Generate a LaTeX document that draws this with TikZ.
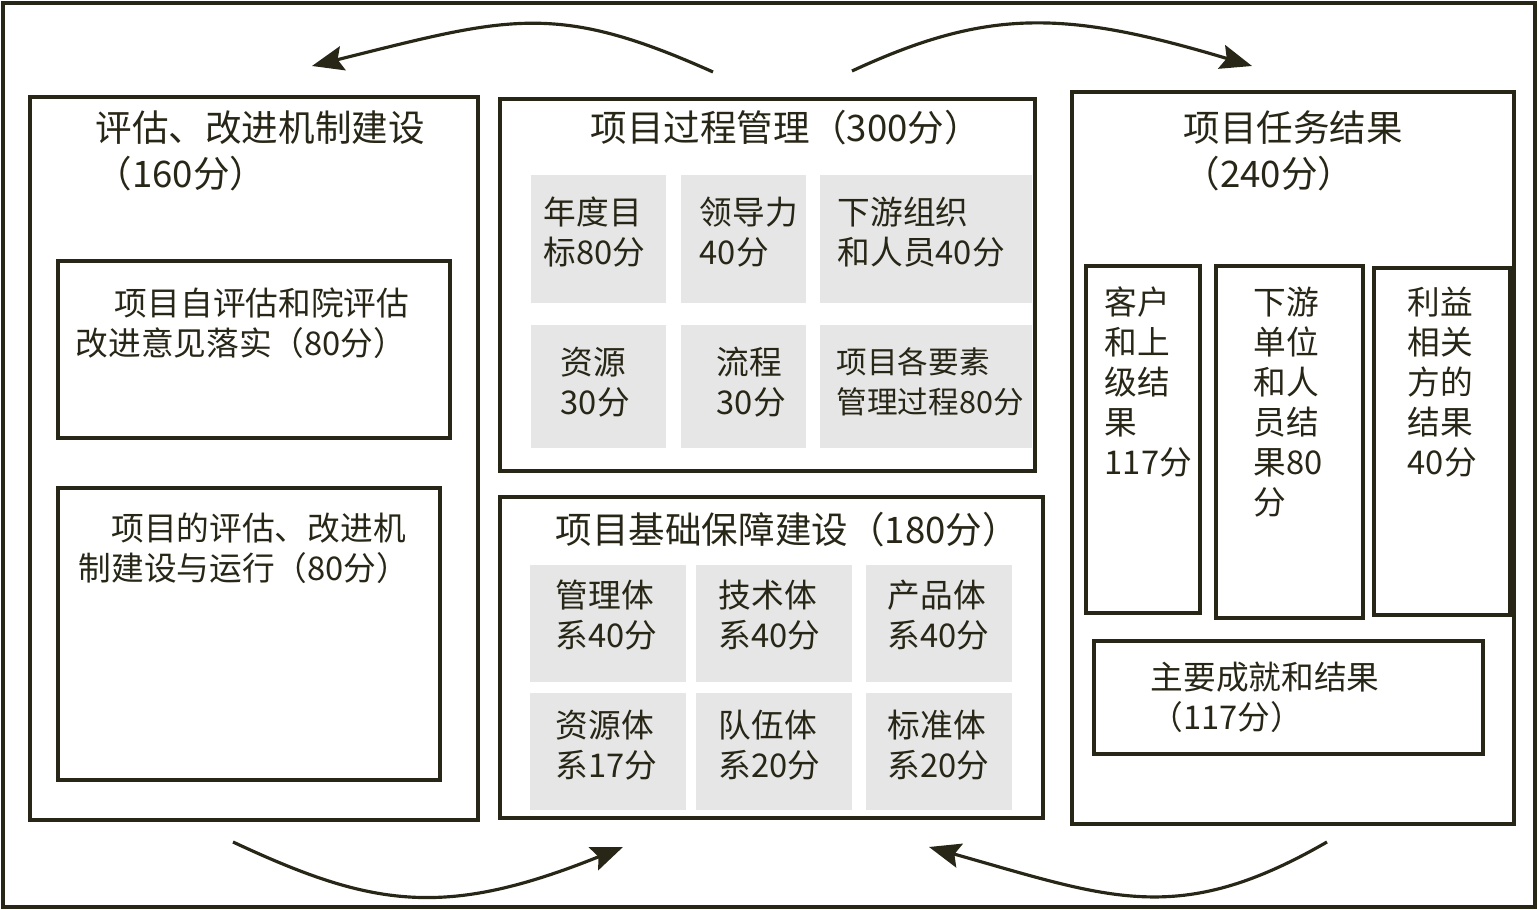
\documentclass[tikz,border=0pt]{standalone}
\usepackage{fontspec}
\setmainfont{Noto Sans CJK SC}
\usetikzlibrary{arrows.meta,fit}
\definecolor{ink}{RGB}{40,38,22}
\definecolor{cellgray}{RGB}{230,230,230}
\tikzset{
  box/.style={draw=ink, line width=1.1pt, inner sep=0pt},
  frame/.style={draw=ink, line width=1.4pt, inner sep=0pt},
  cell/.style={fill=cellgray, inner sep=0pt},
  txt/.style={inner sep=0pt, anchor=west, align=left, text=ink, font=\fontsize{9.3}{11.4}\selectfont},
  ttl/.style={inner sep=0pt, anchor=west, align=left, text=ink, font=\fontsize{10.4}{13}\selectfont},
  flow/.style={draw=ink, line width=0.9pt, -{Stealth[length=9pt,width=7pt,inset=1.5pt]}}
}
\begin{document}
\begin{tikzpicture}[x=0.01cm, y=-0.01cm]
\useasboundingbox (0,0) rectangle (1538,910);
\node[frame, fit={(3,3) (1535,907)}] (outer) {};

% left column
\node[box, fit={(30,97) (478,820)}] (L) {};
\node[ttl] (Lt) at (95,151) {评估、改进机制建设\\（160分）};
\node[box, fit={(58,261) (450,438)}] (L1) {};
\node[txt] (L1t) at (75,323) {\hspace*{1.2em}项目自评估和院评估\\改进意见落实（80分）};
\node[box, fit={(58,488) (440,780)}] (L2) {};
\node[txt] (L2t) at (78,548) {\hspace*{1em}项目的评估、改进机\\制建设与运行（80分）};

% middle top
\node[box, fit={(500,99) (1035,471)}] (M) {};
\node[ttl] (Mt) at (590,128) {项目过程管理（300分）};
\node[cell, fit={(531,175) (666,303)}] (m11) {};
\node[cell, fit={(681,175) (806,303)}] (m12) {};
\node[cell, fit={(820,175) (1032,303)}] (m13) {};
\node[cell, fit={(531,325) (666,448)}] (m21) {};
\node[cell, fit={(681,325) (806,448)}] (m22) {};
\node[cell, fit={(820,325) (1032,448)}] (m23) {};
\node[txt] (m11t) at (543,232) {年度目\\标80分};
\node[txt] (m12t) at (699,232) {领导力\\40分};
\node[txt] (m13t) at (837,232) {下游组织\\和人员40分};
\node[txt] (m21t) at (560,382) {资源\\30分};
\node[txt] (m22t) at (716,382) {流程\\30分};
\node[txt, font=\fontsize{8.7}{11.4}\selectfont] (m23t) at (836,382) {项目各要素\\管理过程80分};

% middle bottom
\node[box, fit={(500,497) (1043,818)}] (B) {};
\node[ttl] (Bt) at (555,530) {项目基础保障建设（180分）};
\node[cell, fit={(530,565) (686,682)}] (b11) {};
\node[cell, fit={(696,565) (852,682)}] (b12) {};
\node[cell, fit={(866,565) (1012,682)}] (b13) {};
\node[cell, fit={(530,693) (686,810)}] (b21) {};
\node[cell, fit={(696,693) (852,810)}] (b22) {};
\node[cell, fit={(866,693) (1012,810)}] (b23) {};
\node[txt] (b11t) at (555,615) {管理体\\系40分};
\node[txt] (b12t) at (718,615) {技术体\\系40分};
\node[txt] (b13t) at (887,615) {产品体\\系40分};
\node[txt] (b21t) at (555,745) {资源体\\系17分};
\node[txt] (b22t) at (718,745) {队伍体\\系20分};
\node[txt] (b23t) at (887,745) {标准体\\系20分};

% right column
\node[box, fit={(1072,92) (1514,824)}] (R) {};
\node[ttl] (Rt) at (1183,151) {项目任务结果\\（240分）};
\node[box, fit={(1086,266) (1200,613)}] (RA) {};
\node[box, fit={(1216,266) (1363,618)}] (RB) {};
\node[box, fit={(1374,268) (1510,615)}] (RC) {};
\node[txt] (RAt) at (1104,382) {客户\\和上\\级结\\果\\117分};
\node[txt] (RBt) at (1253,402) {下游\\单位\\和人\\员结\\果80\\分};
\node[txt] (RCt) at (1407,382) {利益\\相关\\方的\\结果\\40分};
\node[box, fit={(1094,641) (1483,754)}] (RD) {};
\node[txt] (RDt) at (1150,697) {主要成就和结果\\（117分）};

% arrows
\coordinate (a1s) at (713,72);  \coordinate (a1e) at (312,66);
\coordinate (a2s) at (852,71);  \coordinate (a2e) at (1252,66);
\coordinate (a3s) at (233,842); \coordinate (a3e) at (623,847);
\coordinate (a4s) at (1327,842);\coordinate (a4e) at (929,847);
\draw[flow] (a1s) .. controls (555,1) and (509,17) .. (a1e);
\draw[flow] (a2s) .. controls (988,8) and (1065,10) .. (a2e);
\draw[flow] (a3s) .. controls (372,907) and (444,919) .. (a3e);
\draw[flow] (a4s) .. controls (1178,928) and (1110,898) .. (a4e);
\end{tikzpicture}
\end{document}
